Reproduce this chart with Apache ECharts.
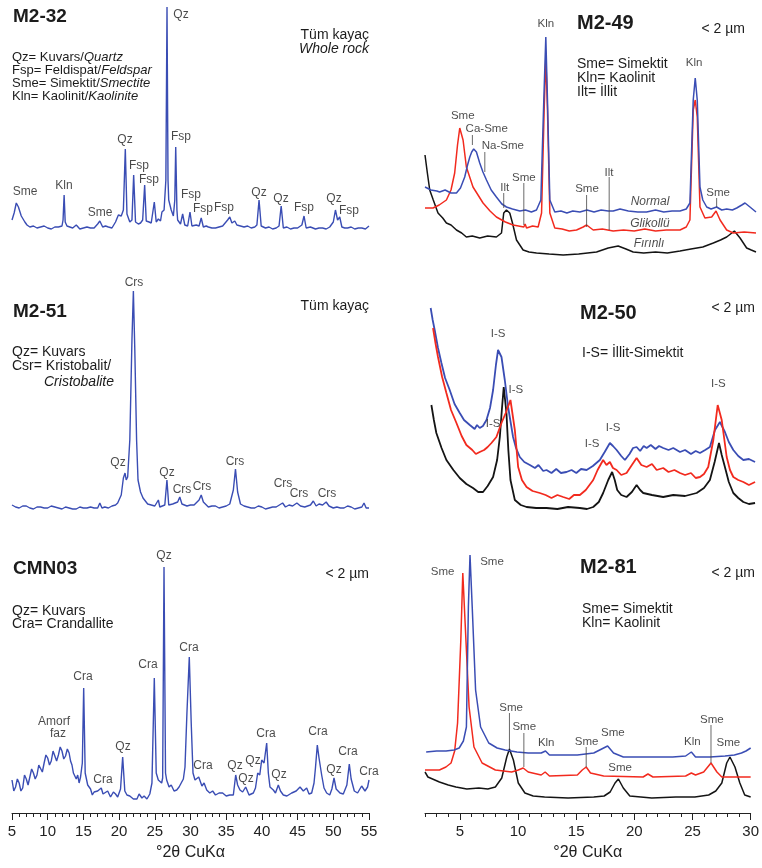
<!DOCTYPE html>
<html><head><meta charset="utf-8">
<script src="https://cdn.jsdelivr.net/npm/echarts@6/dist/echarts.min.js"></script>
<style>html,body{margin:0;padding:0;background:#fff}#c{width:762px;height:868px}</style>
</head><body><div id="c"></div>
<script>
const FONT = "'Liberation Sans', Arial, Helvetica, sans-serif";
const BLUE = '#3a4db4', RED = '#f22a1e', BLACK = '#141414', TXT = '#1c1c1c';

// ---- tick labels ----
const leftTicks = [5,10,15,20,25,30,35,40,45,50,55];
const rightMajorTicks = [5,10,15,20,25,30];
const rightMinorTicks = [2,3,4,5,6,7,8,9,10,11,12,13,14,15,16,17,18,19,20,21,22,23,24,25,26,27,28,29,30];
const axisName = '°2θ CuKα';

// ---- M2-32 (whole rock) [2θ, intensity] ----
const m232 = [[5.0,20],[5.3,27],[5.6,37],[5.9,33],[6.3,24],[6.8,18],[7.1,15],[7.5,13],[8.0,14],[8.5,12],[9.0,13],[9.5,14],[10.0,12],[10.5,11],[11.0,13],[11.5,13],[12.0,14],[12.15,20],[12.3,45],[12.45,18],[12.7,14],[13.1,13],[13.5,12],[14.0,15],[14.5,11],[15.0,12],[15.5,13],[16.0,12],[16.5,12],[17.0,16],[17.3,19],[17.7,13],[18.1,14],[18.5,13],[19.0,12],[19.5,18],[19.9,25],[20.3,24],[20.6,30],[20.87,91],[21.1,26],[21.5,18],[21.8,20],[22.04,65],[22.3,18],[22.7,16],[23.0,17],[23.3,20],[23.58,55],[23.8,19],[24.2,18],[24.5,17],[24.93,38],[25.2,18],[25.5,21],[25.8,19],[26.0,28],[26.3,30],[26.55,60],[26.71,233],[26.85,60],[26.95,40],[27.3,30],[27.6,24],[27.8,40],[27.93,93],[28.1,30],[28.2,20],[28.6,16],[28.9,26],[29.2,15],[29.6,14],[29.93,28],[30.2,14],[30.8,15],[31.2,14],[31.5,22],[31.8,13],[32.2,14],[32.5,13],[33.0,12],[33.5,12],[34.0,13],[34.5,14],[35.2,20],[35.5,23],[35.8,17],[36.2,19],[36.5,15],[37.0,14],[37.5,13],[38.0,14],[38.5,12],[39.0,13],[39.3,15],[39.6,40],[39.9,14],[40.5,12],[41.0,13],[41.5,11],[42.0,12],[42.4,14],[42.7,34],[43.0,12],[43.5,13],[44.0,11],[44.5,12],[45.0,12],[45.6,15],[45.9,24],[46.2,12],[46.8,13],[47.5,11],[48.0,12],[48.5,12],[49.0,11],[49.5,13],[50.0,18],[50.3,30],[50.6,20],[50.9,23],[51.2,13],[51.6,12],[52.0,12],[52.5,13],[53.0,11],[53.5,12],[54.0,12],[54.5,11],[55.0,14]];
const m232Labels = [[6.82,48,'Sme'],[12.28,54,'Kln'],[17.32,27,'Sme'],[20.83,100,'Qz'],[22.79,74,'Fsp'],[24.19,60,'Fsp'],[28.67,225,'Qz'],[28.67,103,'Fsp'],[30.07,45,'Fsp'],[31.75,31,'Fsp'],[34.69,32,'Fsp'],[39.59,47,'Qz'],[42.68,41,'Qz'],[45.9,32,'Fsp'],[50.1,41,'Qz'],[52.2,29,'Fsp']];

// ---- M2-51 ----
const m251 = [[5.0,15],[5.5,13],[6.0,12],[6.5,14],[7.0,14],[7.5,12],[8.0,11],[8.5,13],[9.0,13],[9.5,12],[10.0,12],[10.5,14],[11.0,13],[11.5,12],[12.0,11],[12.5,13],[13.0,12],[13.5,11],[14.0,11],[14.5,13],[15.0,12],[15.5,12],[16.0,13],[16.5,12],[17.0,12],[17.3,17],[17.6,12],[18.0,13],[18.5,12],[19.0,14],[19.5,15],[19.8,17],[20.3,25],[20.6,42],[20.83,47],[21.0,40],[21.2,43],[21.5,80],[21.8,180],[22.0,229],[22.2,170],[22.45,80],[22.65,40],[23.0,28],[23.35,22],[24.0,16],[24.5,15],[25.0,14],[25.5,20],[25.7,13],[26.4,15],[26.7,40],[26.95,15],[27.5,16],[28.2,18],[28.5,23],[28.8,16],[29.5,14],[30.0,15],[30.5,15],[31.2,20],[31.5,25],[31.8,18],[32.5,13],[33.0,14],[33.5,14],[34.0,12],[34.5,13],[35.0,14],[35.5,16],[36.0,30],[36.3,51],[36.6,28],[37.0,16],[37.5,14],[38.0,13],[38.5,12],[39.0,12],[39.5,14],[40.0,13],[40.5,11],[41.0,12],[41.5,13],[42.0,13],[42.9,17],[43.3,13],[43.8,15],[44.3,14],[44.9,17],[45.4,14],[46.0,13],[46.8,15],[47.2,19],[47.6,14],[48.0,16],[48.5,15],[49.0,18],[49.4,14],[50.0,12],[50.5,13],[51.0,12],[51.5,12],[52.0,14],[52.5,13],[53.0,11],[53.5,12],[54.0,13],[54.3,17],[54.6,12],[55.0,12]];
const m251Labels = [[22.09,237,'Crs'],[19.85,57,'Qz'],[26.71,47,'Qz'],[28.81,30,'Crs'],[31.61,33,'Crs'],[36.23,58,'Crs'],[42.96,36,'Crs'],[45.2,26,'Crs'],[49.12,26,'Crs']];

// ---- CMN03 ----
const cmn03 = [[5.0,33],[5.25,22],[5.5,26],[5.75,34],[6.0,30],[6.25,22],[6.5,25],[6.75,38],[7.0,34],[7.25,28],[7.5,36],[7.75,44],[8.0,40],[8.25,34],[8.5,38],[8.75,48],[9.0,46],[9.25,41],[9.5,50],[9.75,58],[10.0,55],[10.25,48],[10.5,52],[10.75,62],[11.0,60],[11.25,52],[11.5,58],[11.75,66],[12.0,62],[12.25,54],[12.5,57],[12.75,64],[13.0,60],[13.2,52],[13.4,48],[13.6,40],[13.8,42],[14.0,34],[14.2,38],[14.4,30],[14.6,36],[14.85,50],[15.04,125],[15.25,40],[15.6,28],[16.0,24],[16.25,18],[16.5,21],[17.0,22],[17.5,25],[17.75,19],[18.0,18],[18.4,22],[18.8,16],[19.2,21],[19.5,19],[19.8,16],[20.2,24],[20.5,56],[20.8,22],[21.1,18],[21.5,17],[22.0,14],[22.5,14],[22.8,19],[23.2,15],[23.5,17],[23.9,14],[24.3,19],[24.6,30],[24.93,135],[25.2,40],[25.49,33],[25.96,30],[26.1,35],[26.29,246],[26.5,40],[26.66,33],[27.0,26],[27.3,28],[27.7,22],[28.07,23],[28.4,26],[28.7,30],[29.0,34],[29.23,46],[29.5,100],[29.83,156],[30.1,90],[30.35,40],[30.63,33],[31.15,36],[31.6,27],[31.9,30],[32.27,23],[32.7,20],[33.1,22],[33.5,18],[34.0,20],[34.5,20],[35.0,17],[35.5,18],[36.0,18],[36.33,38],[36.6,28],[36.93,23],[37.3,21],[37.73,26],[38.2,18],[38.8,20],[39.1,25],[39.41,40],[39.7,38],[39.97,53],[40.3,50],[40.67,70],[40.9,40],[41.13,26],[41.6,23],[41.9,20],[42.3,28],[42.6,22],[43.0,18],[43.5,17],[44.17,20],[44.8,22],[45.34,26],[45.8,22],[46.27,25],[46.6,19],[46.97,20],[47.3,30],[47.5,45],[47.76,68],[48.0,55],[48.37,38],[48.7,25],[49.07,20],[49.5,18],[49.8,24],[50.1,35],[50.4,24],[50.94,20],[51.4,19],[51.9,28],[52.24,49],[52.5,34],[52.94,22],[53.4,20],[53.97,27],[54.44,22],[54.8,26],[55.0,33]];
const cmn03Labels = [[26.29,257,'Qz'],[14.94,136,'Cra'],[24.05,148,'Cra'],[29.79,165,'Cra'],[10.88,91,'Amorf'],[11.44,79,'faz'],[17.75,33,'Cra'],[20.55,66,'Qz'],[31.75,47,'Cra'],[36.23,47,'Qz'],[37.77,34,'Qz'],[38.75,52,'Qz'],[40.57,79,'Cra'],[42.39,38,'Qz'],[47.86,81,'Cra'],[50.1,43,'Qz'],[52.06,61,'Cra'],[55.0,41,'Cra']];

// ---- M2-49 (<2 µm): normal, glycolated, heated ----
const m249Normal = [[2.0,73],[2.5,70],[3.0,69],[3.24,68],[3.7,70],[4.2,67],[4.66,67],[5.0,72],[5.36,83],[5.6,95],[5.79,103],[5.95,108],[6.12,111],[6.35,108],[6.63,97],[6.9,88],[7.2,80],[7.6,70],[8.04,63],[8.5,56],[8.89,53],[9.4,51],[10.02,49],[10.5,50],[11.0,48],[11.43,50],[11.8,60],[12.05,160],[12.22,223],[12.36,160],[12.56,60],[12.98,48],[13.5,49],[14.0,47],[14.5,49],[15.1,48],[15.7,50],[16.3,48],[16.9,50],[17.5,49],[17.92,49],[18.5,51],[19.2,49],[20.0,48],[20.75,48],[21.5,50],[22.2,48],[22.9,49],[23.57,49],[24.1,51],[24.41,57],[24.69,160],[24.86,182],[25.03,160],[25.26,73],[25.5,60],[25.83,53],[26.2,51],[26.67,53],[27.1,50],[27.52,51],[28.0,50],[28.37,52],[28.8,55],[29.07,57],[29.49,53],[30.0,48]];
const m249Glikol = [[2.0,52],[2.68,52],[3.2,55],[3.81,60],[4.2,70],[4.51,87],[4.75,115],[4.94,132],[5.22,120],[5.5,93],[6.06,73],[6.91,57],[7.5,49],[8.04,43],[8.8,38],[9.45,35],[10.36,33],[10.47,36],[10.59,32],[11.1,34],[11.57,33],[11.86,47],[12.08,150],[12.22,203],[12.36,150],[12.56,47],[12.98,32],[13.6,31],[14.2,29],[14.82,30],[15.38,33],[15.67,35],[16.23,30],[17.0,31],[17.92,29],[18.8,30],[19.7,29],[20.6,31],[21.5,29],[22.4,30],[23.57,30],[24.1,33],[24.41,40],[24.69,150],[24.86,160],[25.03,143],[25.26,53],[25.68,42],[26.25,43],[26.62,49],[26.96,40],[27.52,30],[28.08,27],[29.0,28],[30.0,27]];
const m249Firin = [[2.0,105],[2.2,87],[2.4,70],[2.7,60],[3.1,47],[3.5,42],[3.81,37],[4.2,35],[4.66,30],[5.1,27],[5.5,23],[6.0,24],[6.63,22],[7.3,24],[8.04,23],[8.47,27],[8.66,47],[8.89,50],[9.17,47],[9.4,37],[9.74,20],[10.3,10],[10.8,8],[11.43,7],[12.5,6],[13.69,5],[15.0,6],[16.51,8],[17.5,12],[18.34,14],[19.0,11],[19.61,8],[20.5,7],[21.5,8],[22.5,7],[23.57,9],[24.5,11],[25.5,13],[26.39,17],[27.0,20],[27.52,23],[28.17,29],[28.65,22],[29.21,12],[29.6,10],[30.0,8]];
const m249Labels = [[12.22,236,'Kln'],[5.19,144,'Sme'],[7.22,131,'Ca-Sme'],[8.58,114,'Na-Sme'],[8.75,72,'Ilt'],[10.36,82,'Sme'],[15.7,71,'Sme'],[17.56,87,'Ilt'],[24.76,197,'Kln'],[26.79,67,'Sme']];
const m249CurveNames = [[21.03,58,'Normal'],[21.03,36,'Glikollü'],[20.95,16,'Fırınlı']];
const m249Leaders = [[6.01,125,115],[7.06,108,88],[8.66,67,52],[10.36,77,35],[15.67,65,33],[17.58,83,30],[26.67,62,53]];

// ---- M2-50 ----
const m250Normal = [[2.48,212],[2.65,200],[2.82,190],[3.1,172],[3.39,157],[3.7,142],[4.09,130],[4.5,116],[4.94,107],[5.3,100],[5.79,95],[6.2,91],[6.4,95],[6.63,92],[6.9,94],[7.2,100],[7.5,112],[7.76,130],[8.0,155],[8.18,170],[8.3,172],[8.47,163],[8.75,140],[9.03,113],[9.45,83],[9.7,72],[10.02,63],[10.4,58],[10.87,55],[11.3,52],[11.6,55],[12.0,49],[12.28,50],[12.7,47],[13.1,51],[13.5,47],[13.97,48],[14.4,50],[14.8,47],[15.2,51],[15.67,50],[16.2,54],[16.79,60],[17.2,68],[17.64,77],[17.9,74],[18.21,70],[18.6,64],[18.91,60],[19.3,66],[19.6,72],[19.9,73],[20.2,69],[20.5,74],[20.75,72],[21.1,75],[21.5,71],[21.8,74],[22.15,72],[22.6,70],[23.0,72],[23.57,68],[24.0,70],[24.5,66],[24.9,69],[25.26,67],[25.7,70],[26.1,73],[26.53,90],[26.95,98],[27.37,88],[27.7,78],[28.08,70],[28.5,64],[28.93,60],[29.4,61],[29.92,58]];
const m250Glikol = [[2.68,192],[2.9,176],[3.1,163],[3.45,143],[3.81,127],[4.2,110],[4.66,97],[5.1,84],[5.5,75],[6.0,70],[6.3,66],[6.63,68],[7.0,70],[7.3,73],[7.62,77],[8.04,83],[8.47,97],[8.83,107],[9.23,120],[9.6,90],[9.88,53],[10.2,40],[10.59,33],[11.1,29],[11.71,27],[12.2,25],[12.7,22],[13.2,25],[13.69,23],[14.2,21],[14.6,25],[15.1,25],[15.6,30],[16.23,40],[16.6,50],[17.07,60],[17.35,55],[17.64,58],[17.9,52],[18.21,50],[18.6,45],[19.05,47],[19.5,55],[19.9,62],[20.3,55],[20.75,53],[21.2,56],[21.6,50],[22.15,52],[22.6,48],[23.1,50],[23.57,47],[24.0,45],[24.5,47],[24.9,42],[25.26,43],[25.6,46],[25.96,53],[26.39,80],[26.76,115],[27.1,100],[27.52,63],[27.8,50],[28.08,43],[28.5,40],[28.93,38],[29.4,35],[29.92,38]];
const m250Firin = [[2.54,115],[2.75,100],[2.96,87],[3.4,72],[3.81,60],[4.4,50],[4.94,42],[5.5,36],[6.06,32],[6.5,28],[6.91,28],[7.3,34],[7.76,43],[8.1,60],[8.33,83],[8.5,110],[8.66,133],[8.89,107],[9.05,70],[9.23,40],[9.6,20],[10.1,15],[10.59,13],[11.4,12],[12.28,12],[13.2,11],[14.1,13],[15.1,12],[15.7,11],[16.23,13],[16.7,18],[17.07,27],[17.5,40],[17.83,48],[18.05,40],[18.26,30],[18.6,25],[19.05,23],[19.5,28],[19.9,35],[20.2,30],[20.46,27],[21.2,25],[22.15,23],[23.0,25],[24.0,24],[24.98,27],[25.6,32],[26.1,40],[26.5,58],[26.87,77],[27.1,65],[27.37,53],[27.7,38],[28.08,27],[28.5,22],[28.93,18],[29.4,16],[29.92,17]];
const m250Labels = [[8.18,186,'I-S'],[9.68,130,'I-S'],[7.76,96,'I-S'],[17.92,92,'I-S'],[16.14,76,'I-S'],[26.81,136,'I-S']];

// ---- M2-81 ----
const m281Normal = [[2.1,61],[3.0,62],[3.81,62],[4.5,63],[4.94,65],[5.3,72],[5.56,86],[5.73,206],[5.87,258],[6.06,206],[6.35,123],[6.78,86],[7.48,70],[8.2,65],[8.89,63],[9.9,61],[10.87,60],[11.99,60],[12.36,62],[12.7,58],[13.9,58],[15.1,58],[16.51,60],[17.36,65],[17.7,67],[18.21,60],[19.05,56],[20.6,56],[22.15,56],[23.3,56],[24.41,57],[24.9,61],[25.26,56],[26.5,56],[27.8,57],[28.6,58],[29.21,60],[29.6,62],[30.0,65]];
const m281Glikol = [[2.0,43],[3.24,43],[3.8,46],[4.24,50],[4.55,62],[4.8,90],[5.08,173],[5.25,240],[5.45,190],[5.79,106],[6.21,66],[6.91,50],[8.05,43],[9.45,41],[10.02,43],[10.44,45],[10.87,41],[11.99,38],[12.33,41],[12.7,37],[15.1,38],[15.52,43],[15.86,46],[16.23,40],[17.36,37],[20.75,36],[21.17,39],[21.6,36],[24.41,37],[24.9,40],[25.26,38],[25.96,41],[26.59,50],[27.1,41],[27.52,36],[30.0,36]];
const m281Firin = [[2.0,41],[2.25,36],[3.24,31],[4.0,28],[4.66,26],[5.6,24],[6.63,25],[7.4,24],[8.05,26],[8.6,35],[9.03,56],[9.26,64],[9.6,53],[10.02,30],[10.59,20],[11.3,17],[12.28,16],[14.3,15],[16.51,16],[17.4,17],[17.92,21],[18.34,30],[18.63,34],[19.05,25],[19.61,17],[21.5,15],[23.57,16],[25.2,16],[26.39,18],[27.0,22],[27.52,30],[27.94,50],[28.22,56],[28.65,46],[29.07,30],[29.49,18],[30.0,16]];
const m281Labels = [[3.52,241,'Sme'],[7.76,251,'Sme'],[9.4,105,'Sme'],[10.53,86,'Sme'],[12.42,70,'Kln'],[15.89,71,'Sme'],[18.15,80,'Sme'],[18.77,45,'Sme'],[24.98,71,'Kln'],[26.67,93,'Sme'],[28.08,70,'Sme']];
const m281Leaders = [[9.26,100,64],[10.5,80,46],[15.86,66,46],[26.59,88,50]];

// ---- layout ----
const grids = [
  {left:12, top:0,   width:357, height:240},
  {left:12, top:270, width:357, height:250},
  {left:12, top:540, width:357, height:273},
  {left:425, top:0,   width:331, height:260},
  {left:425, top:290, width:331, height:230},
  {left:425, top:540, width:331, height:273}
];
const axisLbl = {fontSize:15, color:'#222', fontFamily:FONT, margin:11};
const xAxes = [];
for (let i=0;i<6;i++){
  const left = i<3;
  xAxes.push({gridIndex:i, type:'value', min:left?5:2, max:left?55:30, show:false, splitLine:{show:false}});
}
Object.assign(xAxes[2], {show:true, interval:5, axisLine:{lineStyle:{color:'#222',width:1}},
  axisTick:{show:true,length:7,lineStyle:{color:'#222'}},
  minorTick:{show:true,splitNumber:5,length:4,lineStyle:{color:'#222'}},
  axisLabel:Object.assign({customValues:leftTicks},axisLbl),
  name:axisName, nameLocation:'middle', nameGap:32, nameTextStyle:{fontSize:16,color:'#222',fontFamily:FONT}});
Object.assign(xAxes[5], {show:true, axisLine:{lineStyle:{color:'#222',width:1}},
  axisTick:{show:true,length:4,customValues:rightMinorTicks,lineStyle:{color:'#222'}},
  axisLabel:Object.assign({customValues:rightMajorTicks},axisLbl),
  name:axisName, nameLocation:'middle', nameGap:32, nameTextStyle:{fontSize:16,color:'#222',fontFamily:FONT}});
xAxes.push({gridIndex:5, type:'value', min:2, max:30, show:true, position:'bottom', axisLine:{show:false},
  axisTick:{show:true,length:7,customValues:rightMajorTicks,lineStyle:{color:'#222'}},
  axisLabel:{show:false}, splitLine:{show:false}});
const yAxes = grids.map((g,i)=>({gridIndex:i, type:'value', min:0, max:g.height, show:false, splitLine:{show:false}}));

function curve(data, idx, color, w){
  return {type:'line', xAxisIndex:idx, yAxisIndex:idx, data:data, showSymbol:false, symbol:'none',
    lineStyle:{color:color,width:w||1.4}, silent:true, animation:false, z:2};
}
function labels(arr, idx, size, italic){
  return {type:'scatter', xAxisIndex:idx, yAxisIndex:idx, symbol:'circle', symbolSize:1, silent:true, clip:false,
    itemStyle:{color:'rgba(0,0,0,0)'}, animation:false, z:5,
    data:arr.map(d=>({value:[d[0],d[1]], name:d[2]})),
    label:{show:true, position:'inside', formatter:'{b}', fontSize:size, color:TXT, fontFamily:FONT, fontStyle:italic?'italic':'normal'}};
}
function leaders(arr, idx){
  return arr.map(d=>({type:'line', xAxisIndex:idx, yAxisIndex:idx, data:[[d[0],d[1]],[d[0],d[2]]], showSymbol:false, symbol:'none',
    lineStyle:{color:'#444',width:0.8}, silent:true, animation:false, z:3}));
}

const series = [
  curve(m232,0,BLUE), labels(m232Labels,0,12),
  curve(m251,1,BLUE), labels(m251Labels,1,12),
  curve(cmn03,2,BLUE), labels(cmn03Labels,2,12),
  curve(m249Firin,3,BLACK,1.5), curve(m249Glikol,3,RED,1.5), curve(m249Normal,3,BLUE,1.5),
  labels(m249Labels,3,11.5), labels(m249CurveNames,3,12,true), ...leaders(m249Leaders,3),
  curve(m250Firin,4,BLACK,1.8), curve(m250Normal,4,BLUE,1.8), curve(m250Glikol,4,RED,1.8),
  labels(m250Labels,4,11.5),
  curve(m281Firin,5,BLACK,1.5), curve(m281Glikol,5,RED,1.5), curve(m281Normal,5,BLUE,1.5),
  labels(m281Labels,5,11.5), ...leaders(m281Leaders,5)
];

function txt(x,y,text,o){
  o = o||{};
  const size = o.size||14;
  return {type:'text', x:x, y:y, silent:true, z:10, style:{text:text, fontSize:size, fontWeight:o.bold?'bold':'normal',
    fontStyle:o.italic?'italic':'normal', fontFamily:FONT, fill:TXT, align:o.align||'left', verticalAlign:'middle',
    rich:{i:{fontStyle:'italic', fontSize:size, fontFamily:FONT, fill:TXT}}}};
}
const graphics = [
  txt(13,17,'M2-32',{bold:true,size:19}),
  txt(369,35,'Tüm kayaç',{align:'right'}),
  txt(369,49,'Whole rock',{align:'right',italic:true}),
  txt(12,57,'Qz= Kuvars/{i|Quartz}',{size:13}),
  txt(12,70,'Fsp= Feldispat/{i|Feldspar}',{size:13}),
  txt(12,83,'Sme= Simektit/{i|Smectite}',{size:13}),
  txt(12,96,'Kln= Kaolinit/{i|Kaolinite}',{size:13}),
  txt(13,312,'M2-51',{bold:true,size:19}),
  txt(369,306,'Tüm kayaç',{align:'right'}),
  txt(12,352,'Qz= Kuvars'),
  txt(12,366,'Csr= Kristobalit/'),
  txt(44,382,'Cristobalite',{italic:true}),
  txt(13,569,'CMN03',{bold:true,size:19}),
  txt(369,574,'< 2 µm',{align:'right'}),
  txt(12,611,'Qz= Kuvars'),
  txt(12,624,'Cra= Crandallite'),
  txt(577,23,'M2-49',{bold:true,size:20}),
  txt(745,29,'< 2 µm',{align:'right'}),
  txt(577,64,'Sme= Simektit'),
  txt(577,78,'Kln= Kaolinit'),
  txt(577,92,'Ilt= İllit'),
  txt(580,313,'M2-50',{bold:true,size:20}),
  txt(755,308,'< 2 µm',{align:'right'}),
  txt(582,353,'I-S= İllit-Simektit'),
  txt(580,567,'M2-81',{bold:true,size:20}),
  txt(755,573,'< 2 µm',{align:'right'}),
  txt(582,609,'Sme= Simektit'),
  txt(582,623,'Kln= Kaolinit')
];

const chart = echarts.init(document.getElementById('c'), null, {renderer:'canvas'});
chart.setOption({
  animation:false, backgroundColor:'#ffffff',
  textStyle:{fontFamily:FONT},
  grid:grids, xAxis:xAxes, yAxis:yAxes, series:series, graphic:graphics
});
</script></body></html>
